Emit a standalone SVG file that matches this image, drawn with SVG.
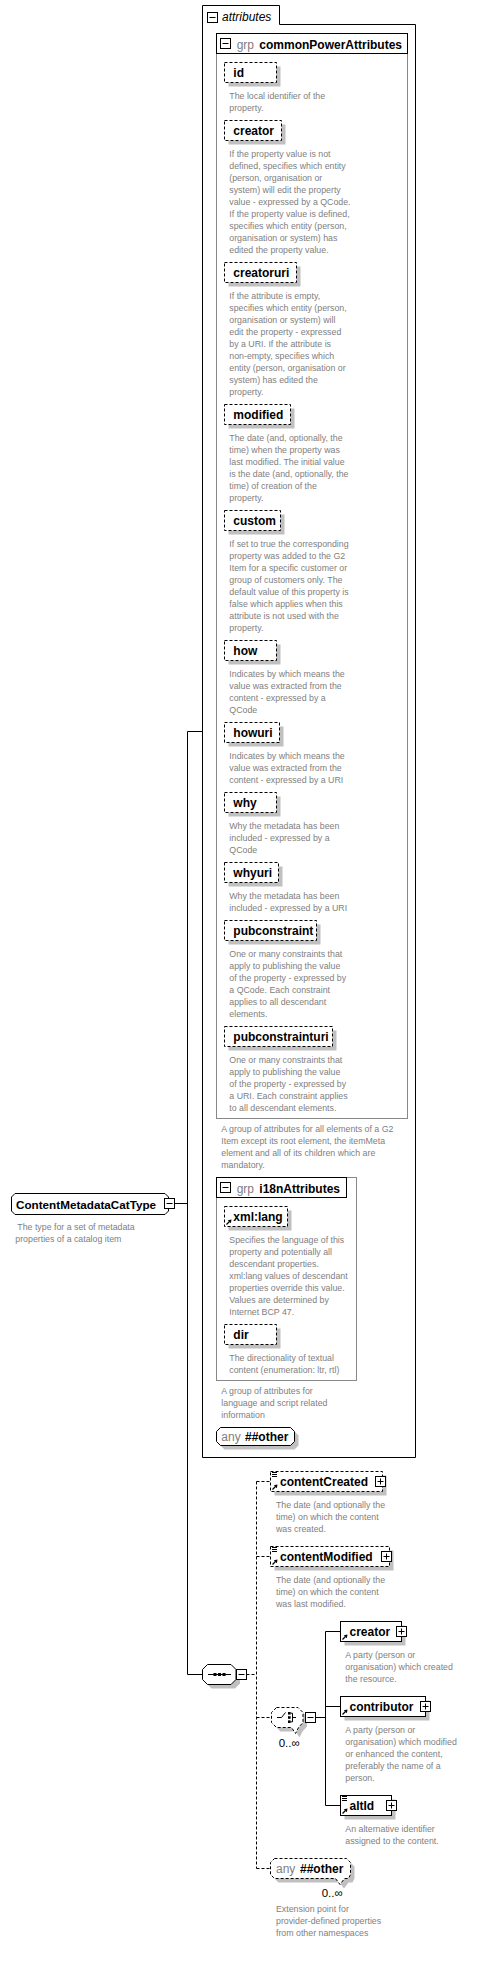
<svg xmlns="http://www.w3.org/2000/svg" xmlns:xlink="http://www.w3.org/1999/xlink" width="478" height="1981" viewBox="0 0 478 1981">
<style>
.n{font-family:"Liberation Sans",Arial,sans-serif;font-weight:bold;font-size:12px;fill:#000}
.t{font-family:"Liberation Sans",Arial,sans-serif;font-weight:bold;font-size:11.7px;fill:#000}
.d{font-family:"Liberation Sans",Arial,sans-serif;font-size:8.8px;fill:#808080}
.g{font-family:"Liberation Sans",Arial,sans-serif;font-size:12px;fill:#808080}
.i{font-family:"Liberation Sans",Arial,sans-serif;font-size:12px;font-style:italic;fill:#000}
.m{font-family:"Liberation Sans",Arial,sans-serif;font-size:11.5px;fill:#000}
.sh{fill:#c0c0c0}
.ab{fill:#fff;stroke:#000;stroke-dasharray:3,2}
.eb{fill:#fff;stroke:#000}
.ln{fill:none;stroke:#000}
.dl{fill:none;stroke:#000;stroke-dasharray:3,2}
.gb{fill:#fff;stroke:#888}
</style>
<defs>
<g id="mi"><rect x="0.5" y="0.5" width="10" height="10" fill="#fff" stroke="#000"/><path d="M2.5 5.5H8.5" stroke="#000"/></g>
<g id="pl"><rect x="0.5" y="0.5" width="10" height="10" fill="#fff" stroke="#000"/><path d="M2.5 5.5H8.5M5.5 2.5V8.5" stroke="#000"/></g>
<g id="ar"><path d="M1.5 6.5L4.5 3.5" stroke="#000" stroke-width="1.3"/><polygon points="6.5,1.5 2.8,2.2 5.8,5.2" fill="#000"/></g>
<g id="eq"><path d="M0 0.5H5M0 2.5H5M0 4.5H5" stroke="#000"/></g>
</defs>

<g id="connectors">
<path class="ln" d="M174.5 1203.5H187.5M187.5 731.5V1674.5M187.5 731.5H202.5M187.5 1674.5H202.5M315.5 1717.5H325.5M325.5 1631.5V1805.5M325.5 1631.5H340.5M325.5 1706.5H340.5M325.5 1805.5H340.5"/>
<path class="dl" d="M246.5 1674.5H256.5M256.5 1481.5V1868.5M256.5 1481.5H270.5M256.5 1556.5H270.5M256.5 1717.5H271.5M256.5 1868.5H270.5"/>
</g>

<g id="ContentMetadataCatType">
<path d="M15 1193.5H165L168.5 1197V1211L165 1214.5H15L11.5 1211V1197Z" fill="#fff" stroke="#000"/>
<text class="t" x="16" y="1209">ContentMetadataCatType</text>
<use xlink:href="#mi" x="164" y="1198"/>
<text class="d" x="17.3" y="1230">The type for a set of metadata<tspan x="15.3" dy="12">properties of a catalog item</tspan></text>
</g>

<g id="attributes">
<path d="M202.5 5.5H279.5V24.5H415.5V1457.5H202.5Z" fill="#fff" stroke="#000"/>
<use xlink:href="#mi" x="207" y="12"/>
<text class="i" x="222" y="21">attributes</text>
</g>

<g id="commonPowerAttributes">
<rect class="gb" x="216.5" y="33.5" width="191" height="1085"/>
<rect x="216.5" y="33.5" width="191" height="20" fill="#fff" stroke="#000"/>
<use xlink:href="#mi" x="220" y="38"/>
<text class="g" x="236.7" y="48.5">grp</text>
<text class="n" x="259.3" y="48.5">commonPowerAttributes</text>
<text class="d" x="221.3" y="1131.5">A group of attributes for all elements of a G2<tspan x="221.3" dy="12">Item except its root element, the itemMeta</tspan><tspan x="221.3" dy="12">element and all of its children which are</tspan><tspan x="221.3" dy="12">mandatory.</tspan></text>
</g>

<g id="attr-id">
<rect class="sh" x="228.5" y="66.5" width="52" height="20"/>
<rect class="ab" x="224.5" y="62.5" width="52" height="20"/>
<text class="n" x="233.3" y="77">id</text>
<text class="d" x="229.3" y="99">The local identifier of the<tspan x="229.3" dy="12">property.</tspan></text>
</g>

<g id="attr-creator">
<rect class="sh" x="228.5" y="124.5" width="57" height="20"/>
<rect class="ab" x="224.5" y="120.5" width="57" height="20"/>
<text class="n" x="233.3" y="135">creator</text>
<text class="d" x="229.3" y="157">If the property value is not<tspan x="229.3" dy="12">defined, specifies which entity</tspan><tspan x="229.3" dy="12">(person, organisation or</tspan><tspan x="229.3" dy="12">system) will edit the property</tspan><tspan x="229.3" dy="12">value - expressed by a QCode.</tspan><tspan x="229.3" dy="12">If the property value is defined,</tspan><tspan x="229.3" dy="12">specifies which entity (person,</tspan><tspan x="229.3" dy="12">organisation or system) has</tspan><tspan x="229.3" dy="12">edited the property value.</tspan></text>
</g>

<g id="attr-creatoruri">
<rect class="sh" x="228.5" y="266.5" width="72" height="20"/>
<rect class="ab" x="224.5" y="262.5" width="72" height="20"/>
<text class="n" x="233.3" y="277">creatoruri</text>
<text class="d" x="229.3" y="299">If the attribute is empty,<tspan x="229.3" dy="12">specifies which entity (person,</tspan><tspan x="229.3" dy="12">organisation or system) will</tspan><tspan x="229.3" dy="12">edit the property - expressed</tspan><tspan x="229.3" dy="12">by a URI. If the attribute is</tspan><tspan x="229.3" dy="12">non-empty, specifies which</tspan><tspan x="229.3" dy="12">entity (person, organisation or</tspan><tspan x="229.3" dy="12">system) has edited the</tspan><tspan x="229.3" dy="12">property.</tspan></text>
</g>

<g id="attr-modified">
<rect class="sh" x="228.5" y="408.5" width="66" height="20"/>
<rect class="ab" x="224.5" y="404.5" width="66" height="20"/>
<text class="n" x="233.3" y="419">modified</text>
<text class="d" x="229.3" y="441">The date (and, optionally, the<tspan x="229.3" dy="12">time) when the property was</tspan><tspan x="229.3" dy="12">last modified. The initial value</tspan><tspan x="229.3" dy="12">is the date (and, optionally, the</tspan><tspan x="229.3" dy="12">time) of creation of the</tspan><tspan x="229.3" dy="12">property.</tspan></text>
</g>

<g id="attr-custom">
<rect class="sh" x="228.5" y="514.5" width="56" height="20"/>
<rect class="ab" x="224.5" y="510.5" width="56" height="20"/>
<text class="n" x="233.3" y="525">custom</text>
<text class="d" x="229.3" y="547">If set to true the corresponding<tspan x="229.3" dy="12">property was added to the G2</tspan><tspan x="229.3" dy="12">Item for a specific customer or</tspan><tspan x="229.3" dy="12">group of customers only. The</tspan><tspan x="229.3" dy="12">default value of this property is</tspan><tspan x="229.3" dy="12">false which applies when this</tspan><tspan x="229.3" dy="12">attribute is not used with the</tspan><tspan x="229.3" dy="12">property.</tspan></text>
</g>

<g id="attr-how">
<rect class="sh" x="228.5" y="644.5" width="52" height="20"/>
<rect class="ab" x="224.5" y="640.5" width="52" height="20"/>
<text class="n" x="233.3" y="655">how</text>
<text class="d" x="229.3" y="677">Indicates by which means the<tspan x="229.3" dy="12">value was extracted from the</tspan><tspan x="229.3" dy="12">content - expressed by a</tspan><tspan x="229.3" dy="12">QCode</tspan></text>
</g>

<g id="attr-howuri">
<rect class="sh" x="228.5" y="726.5" width="55" height="20"/>
<rect class="ab" x="224.5" y="722.5" width="55" height="20"/>
<text class="n" x="233.3" y="737">howuri</text>
<text class="d" x="229.3" y="759">Indicates by which means the<tspan x="229.3" dy="12">value was extracted from the</tspan><tspan x="229.3" dy="12">content - expressed by a URI</tspan></text>
</g>

<g id="attr-why">
<rect class="sh" x="228.5" y="796.5" width="52" height="20"/>
<rect class="ab" x="224.5" y="792.5" width="52" height="20"/>
<text class="n" x="233.3" y="807">why</text>
<text class="d" x="229.3" y="829">Why the metadata has been<tspan x="229.3" dy="12">included - expressed by a</tspan><tspan x="229.3" dy="12">QCode</tspan></text>
</g>

<g id="attr-whyuri">
<rect class="sh" x="228.5" y="866.5" width="54" height="20"/>
<rect class="ab" x="224.5" y="862.5" width="54" height="20"/>
<text class="n" x="233.3" y="877">whyuri</text>
<text class="d" x="229.3" y="899">Why the metadata has been<tspan x="229.3" dy="12">included - expressed by a URI</tspan></text>
</g>

<g id="attr-pubconstraint">
<rect class="sh" x="228.5" y="924.5" width="92" height="20"/>
<rect class="ab" x="224.5" y="920.5" width="92" height="20"/>
<text class="n" x="233.3" y="935">pubconstraint</text>
<text class="d" x="229.3" y="957">One or many constraints that<tspan x="229.3" dy="12">apply to publishing the value</tspan><tspan x="229.3" dy="12">of the property - expressed by</tspan><tspan x="229.3" dy="12">a QCode. Each constraint</tspan><tspan x="229.3" dy="12">applies to all descendant</tspan><tspan x="229.3" dy="12">elements.</tspan></text>
</g>

<g id="attr-pubconstrainturi">
<rect class="sh" x="228.5" y="1030.5" width="108" height="20"/>
<rect class="ab" x="224.5" y="1026.5" width="108" height="20"/>
<text class="n" x="233.3" y="1041">pubconstrainturi</text>
<text class="d" x="229.3" y="1063">One or many constraints that<tspan x="229.3" dy="12">apply to publishing the value</tspan><tspan x="229.3" dy="12">of the property - expressed by</tspan><tspan x="229.3" dy="12">a URI. Each constraint applies</tspan><tspan x="229.3" dy="12">to all descendant elements.</tspan></text>
</g>

<g id="i18nAttributes">
<rect class="gb" x="216.5" y="1177.5" width="140" height="203"/>
<rect x="216.5" y="1177.5" width="130" height="20" fill="#fff" stroke="#000"/>
<use xlink:href="#mi" x="220" y="1182"/>
<text class="g" x="236.7" y="1192.5">grp</text>
<text class="n" x="259.3" y="1192.5">i18nAttributes</text>
<text class="d" x="221.3" y="1394">A group of attributes for<tspan x="221.3" dy="12">language and script related</tspan><tspan x="221.3" dy="12">information</tspan></text>
</g>

<g id="attr-xmllang">
<rect class="sh" x="228.5" y="1210.5" width="63" height="20"/>
<rect class="ab" x="224.5" y="1206.5" width="63" height="20"/>
<use xlink:href="#ar" x="225" y="1218"/>
<text class="n" x="233.3" y="1221">xml:lang</text>
<text class="d" x="229.3" y="1243">Specifies the language of this<tspan x="229.3" dy="12">property and potentially all</tspan><tspan x="229.3" dy="12">descendant properties.</tspan><tspan x="229.3" dy="12">xml:lang values of descendant</tspan><tspan x="229.3" dy="12">properties override this value.</tspan><tspan x="229.3" dy="12">Values are determined by</tspan><tspan x="229.3" dy="12">Internet BCP 47.</tspan></text>
</g>

<g id="attr-dir">
<rect class="sh" x="228.5" y="1328.5" width="52" height="20"/>
<rect class="ab" x="224.5" y="1324.5" width="52" height="20"/>
<text class="n" x="233.3" y="1339">dir</text>
<text class="d" x="229.3" y="1361">The directionality of textual<tspan x="229.3" dy="12">content (enumeration: ltr, rtl)</tspan></text>
</g>

<g id="anyAttribute">
<path class="sh" d="M224.5 1431.5H294.5L298.5 1435.5V1445.5L294.5 1449.5H224.5L220.5 1445.5V1435.5Z"/>
<path class="eb" d="M220.5 1427.5H290.5L294.5 1431.5V1441.5L290.5 1445.5H220.5L216.5 1441.5V1431.5Z"/>
<text class="g" x="221.3" y="1441">any</text>
<text class="n" x="245" y="1441">##other</text>
</g>

<g id="sequence">
<path class="sh" d="M211.5 1668.5H235L240 1673.5V1683.5L235 1688.5H211.5L206.5 1683.5V1673.5Z"/>
<path class="eb" d="M207.5 1664.5H231L236 1669.5V1679.5L231 1684.5H207.5L202.5 1679.5V1669.5Z"/>
<path class="ln" d="M208 1674.5H231"/>
<rect x="213.5" y="1673" width="3" height="3"/>
<rect x="218" y="1673" width="3" height="3"/>
<rect x="222.5" y="1673" width="3" height="3"/>
<use xlink:href="#mi" x="236" y="1669"/>
</g>

<g id="contentCreated">
<rect class="sh" x="274.5" y="1475.5" width="112" height="20"/>
<rect class="ab" x="270.5" y="1471.5" width="112" height="20"/>
<use xlink:href="#eq" x="272" y="1472"/>
<use xlink:href="#ar" x="271" y="1483"/>
<text class="n" x="280" y="1486">contentCreated</text>
<use xlink:href="#pl" x="375" y="1476"/>
<text class="d" x="276" y="1508">The date (and optionally the<tspan x="276" dy="12">time) on which the content</tspan><tspan x="276" dy="12">was created.</tspan></text>
</g>

<g id="contentModified">
<rect class="sh" x="274.5" y="1550.5" width="119" height="20"/>
<rect class="ab" x="270.5" y="1546.5" width="119" height="20"/>
<use xlink:href="#eq" x="272" y="1547"/>
<use xlink:href="#ar" x="271" y="1558"/>
<text class="n" x="280" y="1561">contentModified</text>
<use xlink:href="#pl" x="381" y="1551"/>
<text class="d" x="276" y="1583">The date (and optionally the<tspan x="276" dy="12">time) on which the content</tspan><tspan x="276" dy="12">was last modified.</tspan></text>
</g>

<g id="choice">
<path class="sh" d="M280.5 1711.5H302L307 1716.5V1726.5L302.5 1731.5L299.5 1737.5L295.5 1731.5H280.5L275.5 1726.5V1716.5Z"/>
<path class="ab" d="M276.5 1707.5H298L303 1712.5V1722.5L298.5 1727.5L295.5 1733.5L291.5 1727.5H276.5L271.5 1722.5V1712.5Z"/>
<path class="ln" d="M277 1717.5H281.5L285.5 1712.5M290.5 1713.2H292.5V1721.8H290.5M292.5 1717.5H296"/>
<rect x="288" y="1712" width="2.6" height="2.6"/>
<rect x="288" y="1716.2" width="2.6" height="2.6"/>
<rect x="288" y="1720.4" width="2.6" height="2.6"/>
<use xlink:href="#mi" x="305" y="1712"/>
<text class="m" x="278.7" y="1747">0..∞</text>
</g>

<g id="creator">
<rect class="sh" x="344.5" y="1625.5" width="61" height="20"/>
<rect class="eb" x="340.5" y="1621.5" width="61" height="20"/>
<use xlink:href="#ar" x="341" y="1633"/>
<text class="n" x="349.5" y="1636">creator</text>
<use xlink:href="#pl" x="396" y="1626"/>
<text class="d" x="345.3" y="1658">A party (person or<tspan x="345.3" dy="12">organisation) which created</tspan><tspan x="345.3" dy="12">the resource.</tspan></text>
</g>

<g id="contributor">
<rect class="sh" x="344.5" y="1700.5" width="85" height="20"/>
<rect class="eb" x="340.5" y="1696.5" width="85" height="20"/>
<use xlink:href="#ar" x="341" y="1708"/>
<text class="n" x="349.5" y="1711">contributor</text>
<use xlink:href="#pl" x="420" y="1701"/>
<text class="d" x="345.3" y="1733">A party (person or<tspan x="345.3" dy="12">organisation) which modified</tspan><tspan x="345.3" dy="12">or enhanced the content,</tspan><tspan x="345.3" dy="12">preferably the name of a</tspan><tspan x="345.3" dy="12">person.</tspan></text>
</g>

<g id="altId">
<rect class="sh" x="344.5" y="1799.5" width="51" height="20"/>
<rect class="eb" x="340.5" y="1795.5" width="51" height="20"/>
<use xlink:href="#eq" x="342" y="1796"/>
<use xlink:href="#ar" x="341" y="1807"/>
<text class="n" x="349.5" y="1810">altId</text>
<use xlink:href="#pl" x="386" y="1800"/>
<text class="d" x="345.3" y="1832">An alternative identifier<tspan x="345.3" dy="12">assigned to the content.</tspan></text>
</g>

<g id="anyElement">
<path class="sh" d="M278.5 1862.5H350.5L354.5 1866.5V1878.5L352.5 1882.5H348.5L344 1888.5L339.5 1882.5H278.5L274.5 1878.5V1866.5Z"/>
<path class="ab" d="M274.5 1858.5H346.5L350.5 1862.5V1874.5L348.5 1878.5H344.5L340 1884.5L335.5 1878.5H274.5L270.5 1874.5V1862.5Z"/>
<text class="g" x="276" y="1873">any</text>
<text class="n" x="300" y="1873">##other</text>
<text class="m" x="321.7" y="1897">0..∞</text>
<text class="d" x="276" y="1912">Extension point for<tspan x="276" dy="12">provider-defined properties</tspan><tspan x="276" dy="12">from other namespaces</tspan></text>
</g>
</svg>
